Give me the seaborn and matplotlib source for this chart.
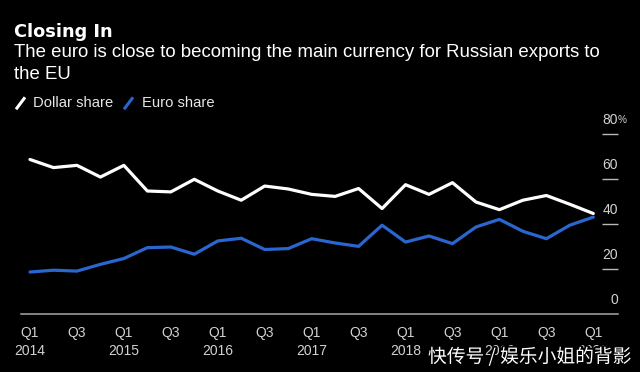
import numpy as np
import pandas as pd
import matplotlib
matplotlib.use("Agg")
import matplotlib.pyplot as plt
import matplotlib.patheffects as pe
from matplotlib.lines import Line2D
from matplotlib import font_manager
import seaborn as sns

# ---------------- data ----------------
quarter_index = list(range(25))  # Q1 2014 ... Q1 2020
dollar_share = [68.8, 65.2, 66.2, 61.0, 66.2, 54.8, 54.4, 60.0, 54.8, 50.7,
                57.0, 55.7, 53.3, 52.4, 55.9, 47.0, 57.6, 53.3, 58.5, 49.9,
                46.5, 50.7, 52.8, 48.9, 44.8]
euro_share = [18.8, 19.6, 19.2, 22.2, 24.8, 29.6, 29.9, 26.7, 32.6, 33.8,
              28.8, 29.2, 33.6, 31.7, 30.2, 39.6, 32.1, 34.8, 31.4, 38.8,
              42.2, 36.9, 33.6, 39.6, 43.2]
series_names = ["Dollar share", "Euro share"]
series_colors = ["#ffffff", "#2a66d0"]

x_tick_pos = [0, 2, 4, 6, 8, 10, 12, 14, 16, 18, 20, 22, 24]
x_tick_quarters = ["Q1", "Q3", "Q1", "Q3", "Q1", "Q3", "Q1", "Q3", "Q1", "Q3", "Q1", "Q3", "Q1"]
year_pos = [0, 4, 8, 12, 16, 20, 24]
year_labels = ["2014", "2015", "2016", "2017", "2018", "2019", "2020"]
y_ticks = [0, 20, 40, 60, 80]
y_tick_labels = ["0", "20", "40", "60", "80"]

title = "Closing In"
subtitle_lines = ["The euro is close to becoming the main currency for Russian exports to",
                  "the EU"]
watermark = "快传号 / 娱乐小姐的背影"

df = pd.DataFrame({
    "q": quarter_index * 2,
    "share": dollar_share + euro_share,
    "series": [series_names[0]] * 25 + [series_names[1]] * 25,
})

# ---------------- style ----------------
sns.set_theme(style="dark")
available = {f.name for f in font_manager.fontManager.ttflist}
base_font = "Liberation Sans" if "Liberation Sans" in available else "DejaVu Sans"
plt.rcParams["font.family"] = [base_font, "DejaVu Sans"]
plt.rcParams["figure.facecolor"] = "black"
plt.rcParams["axes.facecolor"] = "black"

W, H = 640, 372
fig = plt.figure(figsize=(W / 100, H / 100), dpi=100)
fig.patch.set_facecolor("black")

def fx(px):
    return px / W

def fy(py):
    return 1 - py / H

ax_left, ax_right, ax_top, ax_bottom = 21, 618, 134.3, 314.3
ax = fig.add_axes([fx(ax_left), fy(ax_bottom), (ax_right - ax_left) / W, (ax_bottom - ax_top) / H])
ax.set_facecolor("black")

sns.lineplot(data=df, x="q", y="share", hue="series", palette=series_colors,
             hue_order=series_names, linewidth=2.3, legend=False, ax=ax)

# x scale: Q1 2014 at px 30, Q1 2020 at px 593.3
step = (593.3 - 30) / 24
ax.set_xlim(-(30 - ax_left) / step, (ax_right - 30) / step)
ax.set_ylim(0, 80)
ax.set_xlabel("")
ax.set_ylabel("")
ax.grid(False)
for s in ["top", "left", "right"]:
    ax.spines[s].set_visible(False)
ax.spines["bottom"].set_color("#a8a8a8")
ax.spines["bottom"].set_linewidth(1.1)

tick_grey = "#d2d2d2"
ax.set_xticks(x_tick_pos)
ax.set_xticklabels([""] * len(x_tick_pos))
ax.tick_params(axis="x", direction="out", length=4, width=1.0, color="#a8a8a8", pad=2)

ax.yaxis.tick_right()
ax.set_yticks(y_ticks[1:])
ax.set_yticklabels([])
ax.tick_params(axis="y", direction="in", length=11.5, width=1.0, color="#b8b8b8",
               right=True, left=False, labelright=False, labelleft=False)

renderer = fig.canvas.get_renderer()

def fit(t, target_px):
    w = t.get_window_extent(renderer).width
    t.set_fontsize(t.get_fontsize() * target_px / w)

# tick label size from year width
probe = fig.text(0, 0, "2014", fontsize=10)
fit(probe, 31)
tick_fs = probe.get_fontsize()
probe.remove()

for p, lab in zip(x_tick_pos, x_tick_quarters):
    ax.annotate(lab, xy=(p, 0), xycoords=("data", "axes fraction"),
                xytext=(0, -(333 - ax_bottom) * 0.72), textcoords="offset points",
                ha="center", va="center", fontsize=tick_fs, color=tick_grey)
for p, lab in zip(year_pos, year_labels):
    ax.annotate(lab, xy=(p, 0), xycoords=("data", "axes fraction"),
                xytext=(0, -(351 - ax_bottom) * 0.72), textcoords="offset points",
                ha="center", va="center", fontsize=tick_fs, color=tick_grey)

for v, lab in zip(y_ticks, y_tick_labels):
    ax.annotate(lab, xy=(1, v), xycoords=("axes fraction", "data"),
                xytext=(0, 14 * 0.72), textcoords="offset points",
                ha="right", va="center", fontsize=tick_fs, color=tick_grey,
                annotation_clip=False)
    if v == y_ticks[-1]:
        ax.annotate("%", xy=(1, v), xycoords=("axes fraction", "data"),
                    xytext=(0, 14 * 0.72), textcoords="offset points",
                    ha="left", va="center", fontsize=tick_fs * 0.72, color=tick_grey,
                    annotation_clip=False)

# title + subtitle
t_title = fig.text(fx(14), fy(37.3), title, fontsize=12, fontweight="bold",
                   color="white", va="baseline", ha="left", family=["DejaVu Sans"])
fit(t_title, 98)
t_sub1 = fig.text(fx(14), fy(57.3), subtitle_lines[0], fontsize=11, color="white",
                  va="baseline", ha="left")
fit(t_sub1, 588)
fig.text(fx(14), fy(79.3), subtitle_lines[1], fontsize=t_sub1.get_fontsize(), color="white",
         va="baseline", ha="left")

# legend (slash keys)
leg_y = 103.3
key_x = [16, 124]
text_x = [32.7, 141.7]
leg_texts = []
for kx, tx, name, col in zip(key_x, text_x, series_names, series_colors):
    fig.add_artist(Line2D([fx(kx), fx(kx + 9)], [fy(leg_y + 6), fy(leg_y - 6)],
                          color=col, linewidth=2.2, solid_capstyle="butt"))
    lt = fig.text(fx(tx), fy(leg_y), name, fontsize=11, color="#e6e6e6",
                  va="center", ha="left")
    leg_texts.append(lt)
fit(leg_texts[0], 79)
leg_texts[1].set_fontsize(leg_texts[0].get_fontsize())

# watermark (drawn over the last year labels, as in the reference)
wm = fig.text(fx(428), fy(357), watermark, fontsize=14, color="white",
              va="center", ha="left", family=["Noto Sans CJK SC", "DejaVu Sans"],
              path_effects=[pe.withStroke(linewidth=2.5, foreground="black")])
fit(wm, 204)

fig.savefig("out.png", dpi=100, facecolor="black")
